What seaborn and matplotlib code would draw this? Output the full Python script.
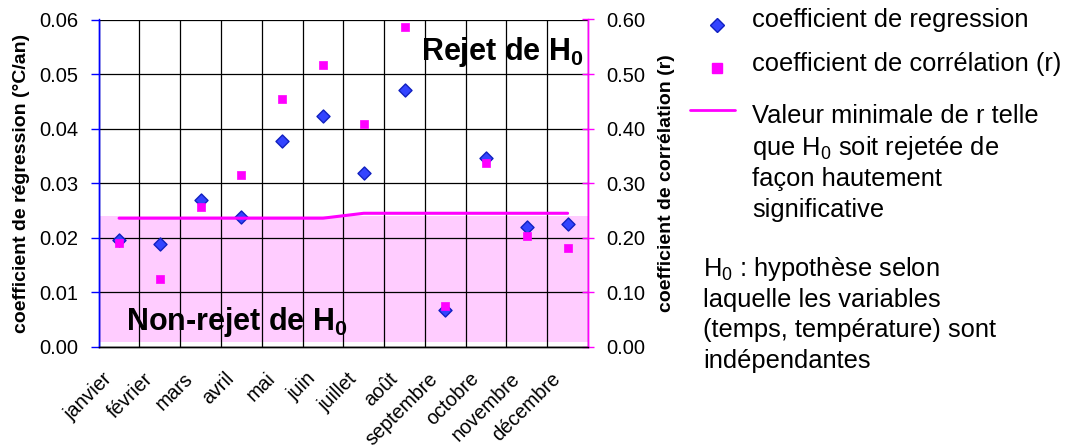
import numpy as np
import pandas as pd
import matplotlib
matplotlib.use("Agg")
import matplotlib.pyplot as plt
import matplotlib.transforms as mtransforms
import seaborn as sns
from matplotlib.lines import Line2D
from matplotlib.patches import Rectangle
from matplotlib.ticker import FormatStrFormatter

# données
mois = ["janvier", "février", "mars", "avril", "mai", "juin", "juillet",
        "août", "septembre", "octobre", "novembre", "décembre"]
coef_regression = [0.0196, 0.0189, 0.0269, 0.0238, 0.0377, 0.0423, 0.0319,
                   0.0471, 0.0067, 0.0346, 0.0220, 0.0225]
coef_correlation = [0.191, 0.125, 0.257, 0.316, 0.455, 0.516, 0.409,
                    0.586, 0.076, 0.338, 0.203, 0.181]
r_minimal = [0.236, 0.236, 0.236, 0.236, 0.236, 0.236, 0.245,
             0.245, 0.245, 0.245, 0.245, 0.245]
seuil_zone = 0.24  # limite de la zone de non-rejet (r)

sns.set_theme(style="white")
plt.rcParams['font.family'] = ['Liberation Sans', 'DejaVu Sans']
plt.rcParams['mathtext.fontset'] = 'custom'
plt.rcParams['mathtext.rm'] = 'Liberation Sans'
plt.rcParams['mathtext.bf'] = 'Liberation Sans:bold'
plt.rcParams['text.color'] = 'black'
plt.rcParams['axes.labelcolor'] = 'black'
plt.rcParams['xtick.labelcolor'] = 'black'
plt.rcParams['ytick.labelcolor'] = 'black'

df = pd.DataFrame({"Mois": mois, "Regression": coef_regression,
                   "Correlation": coef_correlation, "Rmin": r_minimal})

W, H = 1067, 448
fig = plt.figure(figsize=(W / 100, H / 100), dpi=100)
ax = fig.add_axes([98.7 / W, 1 - 347 / H, (588 - 98.7) / W, (347 - 19.5) / H])
ax2 = ax.twinx()

# zone de non-rejet (en unités de r), dessinée sous la grille
trans_zone = mtransforms.blended_transform_factory(ax.transAxes, ax2.transData)
ax.add_patch(Rectangle((-0.004, 0.009), 1.004, seuil_zone - 0.009, transform=trans_zone,
                       facecolor="#FFCCFF", lw=0, zorder=0.2))

sns.scatterplot(data=df, x="Mois", y="Regression", ax=ax, marker="D", s=44,
                color="#3344FF", edgecolor="#1020C0", linewidth=1, zorder=3)
sns.lineplot(data=df, x="Mois", y="Rmin", ax=ax2, color="#FF00FF", lw=2.2, zorder=3)
sns.scatterplot(data=df, x="Mois", y="Correlation", ax=ax2, marker="s", s=40,
                color="#FF00FF", edgecolor="#FF00FF", linewidth=0.5, zorder=4)

ax.set_xlim(-0.5, 11.5)
ax.set_ylim(0, 0.06)
ax2.set_ylim(0, 0.6)
ax.set_yticks(np.arange(0, 0.061, 0.01))
ax2.set_yticks(np.arange(0, 0.61, 0.1))
ax.yaxis.set_major_formatter(FormatStrFormatter("%.2f"))
ax2.yaxis.set_major_formatter(FormatStrFormatter("%.2f"))

ax.set_xticks(range(len(mois)))
ax.set_xticklabels(mois, rotation=45, ha="right", va="top", rotation_mode="anchor", fontsize=14.2)
ax.set_xticks(np.arange(-0.5, 12, 1), minor=True)
ax.tick_params(axis="x", which="major", length=0, pad=0)
ax.tick_params(axis="x", which="minor", length=5, width=1, color="black", direction="out")
ax.tick_params(axis="y", length=6, width=1, color="blue", direction="out", labelsize=14.5, pad=8.5)
ax2.tick_params(axis="y", length=9, width=1, color="#FF00FF", direction="inout", labelsize=14.5, pad=8.3)

# décalage des étiquettes de mois (comme dans Excel)
decal = mtransforms.ScaledTranslation(-0.17, -0.22, fig.dpi_scale_trans)
for lab in ax.get_xticklabels():
    lab.set_transform(lab.get_transform() + decal)

ax.set_axisbelow(True)
ax.grid(which="minor", axis="x", color="black", lw=0.9)
ax.grid(which="major", axis="y", color="black", lw=0.9)
ax.grid(which="major", axis="x", visible=False)

for a in (ax, ax2):
    a.spines["left"].set_color("blue")
    a.spines["right"].set_color("#FF00FF")
    a.spines["bottom"].set_color("black")
    for s in a.spines.values():
        s.set_linewidth(1)
    a.set_xlabel("")
ax.spines["top"].set_visible(False)
ax2.spines["top"].set_visible(False)

ax.set_ylabel("coefficient de régression (°C/an)", fontsize=14, fontweight="bold")
ax.yaxis.set_label_coords(-0.1405, 0.5)
ax2.set_ylabel("coefficient de corrélation (r)", fontsize=14, fontweight="bold")
ax2.yaxis.set_label_coords(1.143, 0.5)

ax.text(0.99, 0.90, r"Rejet de H$_\mathbf{0}$", transform=ax.transAxes, ha="right", va="center",
        fontsize=22, fontweight="bold", zorder=5)
ax.text(0.055, 0.075, r"Non-rejet de H$_\mathbf{0}$", transform=ax.transAxes, ha="left", va="center",
        fontsize=22, fontweight="bold", zorder=5)

# légende à droite
def fx(x):
    return x / W

def fy(y):
    return 1 - y / H

fig.add_artist(Line2D([fx(717)], [fy(25)], marker="D", ms=7, color="#3344FF",
                      mec="#1020C0", transform=fig.transFigure))
fig.add_artist(Line2D([fx(717)], [fy(68)], marker="s", ms=7, color="#FF00FF",
                      transform=fig.transFigure))
fig.add_artist(Line2D([fx(690), fx(735)], [fy(110), fy(110)], color="#FF00FF", lw=2,
                      transform=fig.transFigure))

fs = 18.4
fig.text(fx(752), fy(20), "coefficient de regression", fontsize=fs, va="center")
fig.text(fx(752), fy(64), "coefficient de corrélation (r)", fontsize=fs, va="center")
lignes_r = ["Valeur minimale de r telle", r"que H$_0$ soit rejetée de",
            "façon hautement", "significative"]
for i, t in enumerate(lignes_r):
    fig.text(fx(752), fy(116 + 31.5 * i), t, fontsize=fs, va="center")
lignes_h = [r"H$_0$ : hypothèse selon", "laquelle les variables",
            "(temps, température) sont", "indépendantes"]
for i, t in enumerate(lignes_h):
    fig.text(fx(703), fy(269 + 30.5 * i), t, fontsize=fs, va="center")

fig.savefig("out.png", dpi=100)
